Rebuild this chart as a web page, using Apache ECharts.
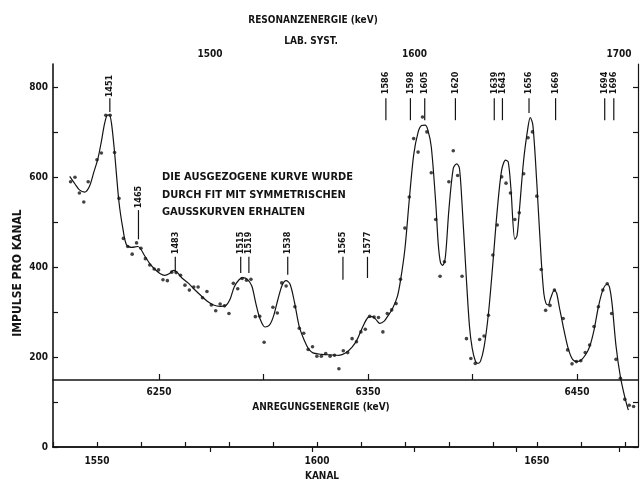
<!DOCTYPE html>
<html>
<head>
<meta charset="utf-8">
<script src="https://cdn.jsdelivr.net/npm/echarts@6/dist/echarts.min.js"></script>
<style>
  html, body { margin: 0; padding: 0; background: #fff; }
  #chart { width: 640px; height: 480px; }
</style>
</head>
<body>
<div id="chart"></div>
<script>
// Messpunkte: Impulse pro Kanal
const kanal = [1544,1545,1546,1547,1548,1550,1551,1552,1553,1554,1555,1556,1557,1558,1559,1560,1561,1562,1563,1564,
  1565,1566,1567,1568,1569,1570,1571,1572,1573,1574,1575,1576,1577,1578,1579,1580,1581,1582,1583,1584,
  1585,1586,1587,1588,1590,1591,1592,1593,1595,1596,1597,1598,1599,1600,1601,1602,1603,1604,1605,1606,
  1607,1608,1609,1610,1611,1612,1613,1614,1615,1616,1617,1618,1619,1620,1621,1622,1623,1624,1625,1626,
  1627,1628,1629,1630,1631,1632,1633,1634,1635,1636,1637,1638,1639,1640,1641,1642,1643,1644,1645,1646,
  1647,1648,1649,1650,1651,1652,1653,1654,1656,1657,1658,1659,1660,1661,1662,1663,1664,1665,1666,1667,
  1668,1669,1670,1671,1672];
const impulse = [590,600,565,545,590,639,654,738,738,655,553,464,446,429,454,442,419,405,396,394,
  372,370,389,388,382,360,349,356,356,332,346,316,303,318,314,297,364,352,375,371,
  373,290,291,233,311,298,365,358,312,264,253,217,223,202,202,208,202,204,174,214,
  210,241,234,256,262,291,289,288,256,297,305,319,373,487,556,686,656,734,701,610,
  506,380,412,590,659,604,380,241,197,186,239,247,293,427,494,601,587,565,506,521,
  608,688,701,558,395,304,315,349,286,216,185,190,192,210,227,268,312,349,363,297,
  195,153,106,93,90];

// Ausgezogene Kurve (Fit mit symmetrischen Gausskurven), Stuetzstellen
const kurveKanal = [1543.8,1545,1546,1547.2,1548.3,1549.3,1550.2,1551,1551.7,1552.3,1552.8,1553.3,1554,1555,1555.9,
  1556.7,1557.9,1559.3,1560.8,1562,1563.1,1564.3,1565.4,1566.5,1567.4,1568.3,1569.2,1570.7,1572,1573.5,
  1575,1576.5,1578,1579.3,1580.3,1581.2,1582.3,1583.2,1584.2,1585.2,1586.1,1587,1588.2,1589.2,1590.1,
  1591.1,1592.1,1593,1593.9,1594.9,1596,1597.1,1598,1599,1601,1603,1605,1606.5,1608,1609.2,
  1610.4,1611.6,1612.6,1613.4,1614.3,1615.3,1616.1,1617.2,1618.3,1619,1620,1621,1622,1623,1623.8,
  1624.6,1625.2,1626,1627,1627.6,1628.1,1628.6,1629.2,1630,1631,1631.8,1632.4,1633,1634,1634.7,
  1635.3,1636,1636.6,1637.2,1638,1639,1640,1641,1642,1642.9,1643.5,1644.1,1645,1645.5,1646.1,
  1647,1648,1648.5,1649.1,1650,1651,1651.6,1652.1,1652.6,1653.1,1654,1654.5,1655.1,1656,1657,
  1658,1659,1660,1661,1662,1663,1664,1665,1666,1666.5,1667.1,1668,1669,1670,1670.8];
const kurveWert = [602,585,572,567,580,612,641,680,718,738,739,720,655,545,485,
  450,444,446,426,408,396,386,382,386,393,388,377,365,352,338,
  325,316,313,315,330,356,372,377,373,358,320,287,267,271,290,
  327,360,370,362,322,267,238,220,210,206,205,204,209,222,240,
  267,288,290,284,275,280,291,308,335,370,440,550,650,700,715,
  716,706,668,545,450,410,404,422,527,620,630,620,540,371,267,
  220,192,186,191,222,297,408,527,616,638,634,576,462,470,534,
  638,712,733,716,586,416,341,319,316,330,349,342,312,268,224,
  197,190,193,204,223,260,312,349,362,356,319,225,156,111,82];

// Resonanzen (keV, Lab.-System)
const resonanzen = [1451,1465,1483,1515,1519,1538,1565,1577,1586,1598,1605,1620,1639,1643,1656,1669,1694,1696];

// Achsenbeschriftungen
const kanalTicks = [1540,1550,1560,1570,1580,1590,1600,1610,1620,1630,1640,1650,1660,1670];
const kanalLabels = [1550,1600,1650];
const resTicks = [1500,1550,1600,1650,1700];
const resLabels = [1500,1600,1700];
const anrTicks = [6250,6300,6350,6400,6450];
const anrLabels = [6250,6350,6450];
const impTicks = [0,100,200,300,400,500,600,700,800];
const impLabels = [0,200,400,600,800];

// Hoehe der Markierungen (Textmitte, Strich oben, Strich unten) in Impulsen
const markerHoehe = {
  1451: [803, 776, 745],
  1465: [556, 527, 462],
  1483: [454, 423, 389],
  1515: [454, 423, 387],
  1519: [454, 423, 387],
  1538: [454, 423, 383],
  1565: [454, 423, 372],
  1577: [454, 423, 376],
  1656: [810, 776, 743]
};
const markerStandard = [810, 776, 727];
// seitliche Verschiebung (px) eng benachbarter Markierungen, damit die Zahlen lesbar bleiben
const markerVersatz = { 1694: -2, 1696: 3 };

const INK = '#141414';
const FONT = "'DejaVu Sans Condensed', 'DejaVu Sans', sans-serif";

const chart = echarts.init(document.getElementById('chart'), null, { renderer: 'canvas' });

const punktDaten = kanal.map((k, i) => [k, impulse[i]]);
const kurveDaten = kurveKanal.map((k, i) => [k, kurveWert[i]]);
const markerDaten = resonanzen.map(e => [e].concat(markerHoehe[e] || markerStandard));

// Zahlen ohne Tausendertrennzeichen
const plain = v => String(Math.round(v));
const tickLabel = { color: INK, fontFamily: FONT, fontWeight: 'bold', fontSize: 10, formatter: plain };

chart.setOption({
  animation: false,
  backgroundColor: '#fff',
  grid: [
    { left: 53, right: 2, top: 64, bottom: 33 },
    { left: 53, right: 2, top: 64, bottom: 100 }
  ],
  xAxis: [
    {
      type: 'value', gridIndex: 0, position: 'bottom', min: 1540, max: 1673,
      axisLine: { lineStyle: { color: INK, width: 1.6 } },
      axisTick: { inside: true, length: 5, customValues: kanalTicks, lineStyle: { color: INK, width: 1.2 } },
      axisLabel: Object.assign({ customValues: kanalLabels, margin: 9 }, tickLabel),
      splitLine: { show: false }
    },
    {
      type: 'value', gridIndex: 0, position: 'top', min: 1423.2, max: 1709.3,
      axisLine: { lineStyle: { color: INK, width: 1.6 } },
      axisTick: { inside: true, length: 5, customValues: resTicks, lineStyle: { color: INK, width: 1.2 } },
      axisLabel: Object.assign({ customValues: resLabels, margin: 5 }, tickLabel),
      splitLine: { show: false }
    },
    {
      type: 'value', gridIndex: 1, position: 'bottom', min: 6199.3, max: 6479.2,
      axisLine: { lineStyle: { color: INK, width: 1.6 } },
      axisTick: { inside: true, length: 6, customValues: anrTicks, lineStyle: { color: INK, width: 1.2 } },
      axisLabel: Object.assign({ customValues: anrLabels, margin: 7 }, tickLabel),
      splitLine: { show: false }
    }
  ],
  yAxis: [
    {
      type: 'value', gridIndex: 0, position: 'left', min: 0, max: 852,
      axisLine: { show: true, lineStyle: { color: INK, width: 1.6 } },
      axisTick: { show: true, inside: true, length: 5, customValues: impTicks, lineStyle: { color: INK, width: 1.2 } },
      axisLabel: Object.assign({ customValues: impLabels, margin: 5 }, tickLabel),
      splitLine: { show: false }
    },
    {
      type: 'value', gridIndex: 0, position: 'right', min: 0, max: 852,
      axisLine: { show: true, lineStyle: { color: INK, width: 1.2 } },
      axisTick: { show: true, inside: true, length: 5, customValues: impTicks, lineStyle: { color: INK, width: 1.2 } },
      axisLabel: { show: false },
      splitLine: { show: false }
    },
    {
      type: 'value', gridIndex: 1, min: 0, max: 1, show: false
    }
  ],
  series: [
    {
      type: 'line', xAxisIndex: 0, yAxisIndex: 0, data: kurveDaten,
      smooth: 0.3, showSymbol: false, symbol: 'none',
      lineStyle: { color: INK, width: 1.2 }, z: 2
    },
    {
      type: 'scatter', xAxisIndex: 0, yAxisIndex: 0, data: punktDaten,
      symbol: 'circle', symbolSize: 3.6,
      itemStyle: { color: INK }, z: 3
    },
    {
      type: 'custom', xAxisIndex: 1, yAxisIndex: 0, data: markerDaten, z: 4,
      renderItem: function (params, api) {
        const e = api.value(0);
        const dx = markerVersatz[e] || 0;
        const pText = api.coord([e, api.value(1)]);
        const pTop = api.coord([e, api.value(2)]);
        const pBot = api.coord([e, api.value(3)]);
        return {
          type: 'group',
          children: [
            {
              type: 'line',
              shape: { x1: pTop[0] + dx, y1: pTop[1], x2: pBot[0] + dx, y2: pBot[1] },
              style: { stroke: INK, lineWidth: 1.2 }
            },
            {
              type: 'text',
              x: pText[0] + dx, y: pText[1], rotation: Math.PI / 2,
              style: {
                text: String(e), fill: INK, align: 'center', verticalAlign: 'middle',
                font: 'bold 9px ' + FONT
              }
            }
          ]
        };
      }
    }
  ],
  graphic: [
    { type: 'text', x: 313, y: 20, style: { text: 'RESONANZENERGIE (keV)', fill: INK, font: 'bold 10px ' + FONT, align: 'center', verticalAlign: 'middle' } },
    { type: 'text', x: 311, y: 41, style: { text: 'LAB. SYST.', fill: INK, font: 'bold 10px ' + FONT, align: 'center', verticalAlign: 'middle' } },
    { type: 'text', x: 321, y: 407, style: { text: 'ANREGUNGSENERGIE (keV)', fill: INK, font: 'bold 10px ' + FONT, align: 'center', verticalAlign: 'middle' } },
    { type: 'text', x: 322, y: 476, style: { text: 'KANAL', fill: INK, font: 'bold 10px ' + FONT, align: 'center', verticalAlign: 'middle' } },
    { type: 'text', x: 18, y: 273, rotation: Math.PI / 2, style: { text: 'IMPULSE PRO KANAL', fill: INK, font: 'bold 12px ' + FONT, align: 'center', verticalAlign: 'middle' } },
    { type: 'text', x: 162, y: 177, style: { text: 'DIE AUSGEZOGENE KURVE WURDE', fill: INK, font: 'bold 11px ' + FONT, align: 'left', verticalAlign: 'middle' } },
    { type: 'text', x: 162, y: 195, style: { text: 'DURCH FIT MIT SYMMETRISCHEN', fill: INK, font: 'bold 11px ' + FONT, align: 'left', verticalAlign: 'middle' } },
    { type: 'text', x: 162, y: 212, style: { text: 'GAUSSKURVEN ERHALTEN', fill: INK, font: 'bold 11px ' + FONT, align: 'left', verticalAlign: 'middle' } }
  ]
});
</script>
</body>
</html>
